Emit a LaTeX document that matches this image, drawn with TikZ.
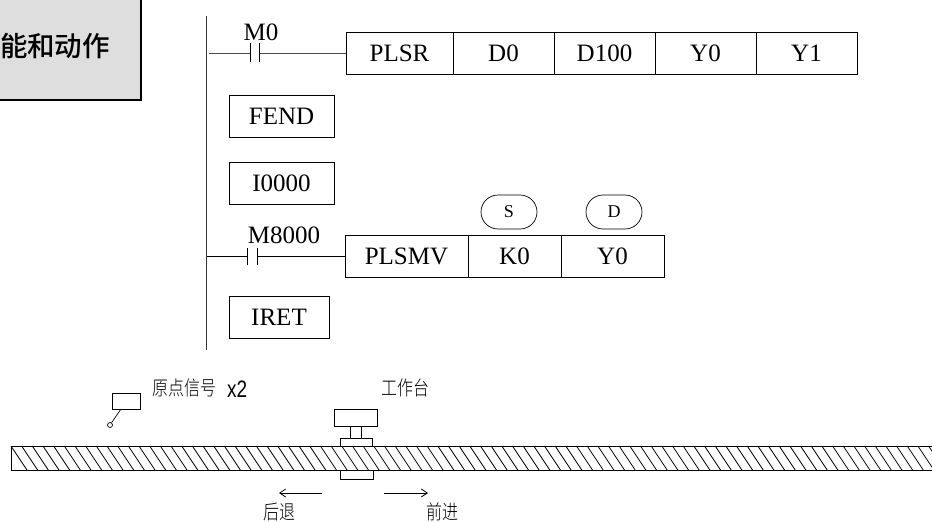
\documentclass[tikz,border=0pt]{standalone}
\usepackage{fontspec}
\setmainfont{Liberation Serif}
\newfontfamily\cjk{Noto Sans CJK SC Medium}
\newfontfamily\cjkthin{Noto Sans CJK SC Light}
\newfontfamily\latinthin{Liberation Sans}
\usetikzlibrary{positioning,arrows.meta,shapes.misc}
\tikzset{
    cell/.style={draw, line width=0.7pt, minimum height=42pt, inner sep=0pt, font=\fontsize{25}{25}\selectfont},
    tag/.style={font=\fontsize{25}{25}\selectfont, inner sep=0pt},
    contact/.style={line width=0.7pt},
    rung/.style={line width=0.9pt, draw=black!70},
    oval/.style={draw, rounded rectangle, line width=0.7pt, minimum width=56pt, minimum height=34pt, inner sep=0pt, font=\fontsize{18}{18}\selectfont},
    note/.style={font=\cjkthin\fontsize{16}{16}\selectfont, inner sep=0pt, yscale=1.25, transform shape},
    part/.style={draw, line width=0.8pt, inner sep=0pt, fill=white},
    move/.style={line width=0.8pt, -{Straight Barb[length=6pt,width=8pt]}}
}
\begin{document}
\begin{tikzpicture}[x=1pt, y=-1pt]
    \useasboundingbox (0,0) rectangle (932,522);
    % title box
    \begin{scope}
        \draw[line width=1.8pt, fill=black!13] (-20,-5) rectangle (141,100);
        \node[font=\cjk\fontsize{27.5}{27.5}\selectfont, inner sep=0pt] (title) at (55,46) {能和动作};
    \end{scope}

    % ladder
    \draw[line width=0.9pt, draw=black!80] (206,16) coordinate (railtop) -- (206,350) coordinate (railend);

    % first rung
    \node[cell, minimum width=107pt] (plsr) at (399.5,53) {PLSR};
    \foreach \name/\txt/\prev in {d0/D0/plsr, d100/D100/d0, y0/Y0/d100, y1/Y1/y0} {
        \node[cell, minimum width=101pt, right=-0.7pt of \prev] (\name) {\txt};
    }
    \coordinate (starta) at (209,53);
    \coordinate (cona) at (250,53);
    \coordinate (conb) at (259,53);
    \draw[rung] (starta) -- (cona);
    \draw[rung] (conb) -- (plsr.west);
    \draw[contact] (250,43) -- (250,62) (259,43) -- (259,62);
    \node[tag] (m0) at (261,32) {M0};

    % stand alone boxes
    \node[cell, minimum width=105pt] (fend) at (281.5,116) {FEND};
    \node[cell, minimum width=105pt] (izero) at (281.5,183) {I0000};
    \node[cell, minimum width=100pt] (iret) at (279,317) {IRET};

    % second rung
    \node[cell, minimum width=123pt] (plsmv) at (406.5,256.5) {PLSMV};
    \node[cell, minimum width=93pt, right=-0.7pt of plsmv] (kzero) {K0};
    \node[cell, minimum width=103pt, right=-0.7pt of kzero] (yzero) {Y0};
    \coordinate (startb) at (207,256.5);
    \coordinate (conc) at (247,256.5);
    \coordinate (cond) at (257,256.5);
    \draw[line width=0.7pt] (startb) -- (conc);
    \draw[line width=0.7pt] (cond) -- (plsmv.west);
    \draw[contact] (247,248) -- (247,265) (257,248) -- (257,265);
    \node[tag] (m8000) at (284,235) {M8000};

    \node[oval] (opS) at (509,212) {S};
    \node[oval] (opD) at (614,212) {D};

    % screw
    \begin{scope}
        \clip (10,440) rectangle (932,475);
        \draw[line width=0.8pt] (932,446) -- (11,446) -- (11,470) -- (932,470);
        \foreach \i in {1,...,87} {
            \draw[line width=0.8pt] ({\i*10.67+0.3},446) -- ({\i*10.67+16.3},470);
        }
    \end{scope}

    % table
    \node[part, minimum width=43pt, minimum height=17pt] (tabletop) at (355.5,417.5) {};
    \node[part, minimum width=11pt, minimum height=12pt] (neck) at (355.5,432) {};
    \node[part, minimum width=32pt, minimum height=8pt] (nutup) at (356,442) {};
    \node[part, minimum width=33pt, minimum height=9pt] (nutdown) at (356.5,474.5) {};
    \node[note] (tablab) at (405,388) {工作台};

    % home sensor
    \node[part, minimum width=28pt, minimum height=16pt] (sensor) at (126,401) {};
    \node[draw, circle, line width=0.7pt, minimum size=5pt, inner sep=0pt] (tip) at (110,425) {};
    \draw[line width=0.7pt] (121,409) -- (tip);
    \node[note, anchor=west] (senslab) at (152,388) {原点信号};
    \node[note, anchor=west, font=\latinthin\fontsize{19}{19}\selectfont] (sensno) at (227,389) {x2};

    % directions
    \coordinate (backa) at (322,493);
    \coordinate (backb) at (279,493);
    \coordinate (fora) at (384,493);
    \coordinate (forb) at (428,493);
    \draw[move] (backa) -- (backb);
    \draw[move] (fora) -- (forb);
    \node[note] (backlab) at (279,512) {后退};
    \node[note] (forlab) at (442,512) {前进};
\end{tikzpicture}
\end{document}
